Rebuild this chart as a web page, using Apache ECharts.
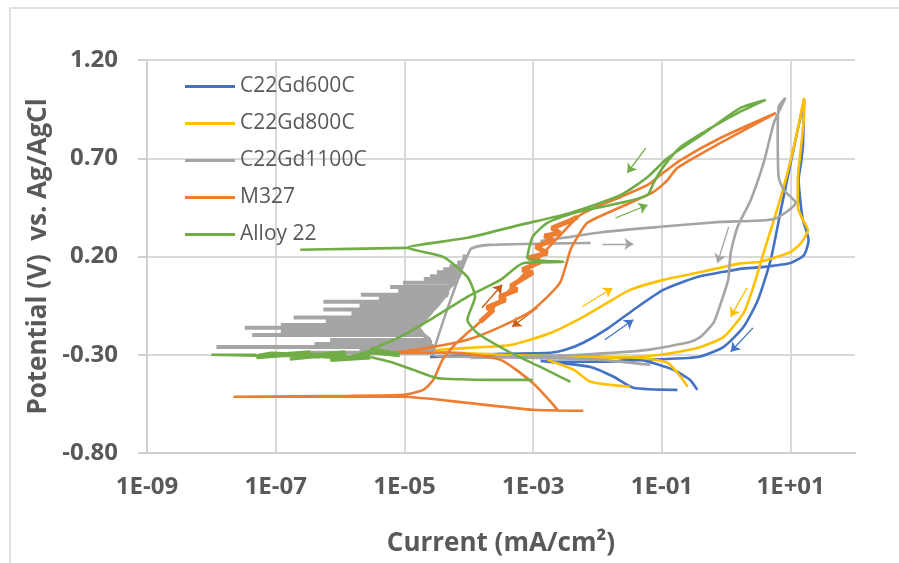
<!DOCTYPE html>
<html>
<head>
<meta charset="utf-8">
<script src="https://cdn.jsdelivr.net/npm/echarts@6/dist/echarts.min.js"></script>
<style>
  html, body { margin: 0; padding: 0; background: #fff; }
  #chart { width: 899px; height: 563px; }
</style>
</head>
<body>
<div id="chart"></div>
<script>
// current in mA/cm2, potential in V vs Ag/AgCl, [current, potential]
// '-' pairs break the line
const seriesNames = ['C22Gd600C', 'C22Gd800C', 'C22Gd1100C', 'M327', 'Alloy 22']

const c22gd600 = [
  [0.355, -0.479], [0.275, -0.428], [0.151, -0.377], [0.047, -0.326], [0.0112, -0.311],
  [2.6e-3, -0.306], [6.3e-4, -0.306], [2.5e-5, -0.311], [3.1e-4, -0.295], [1.86e-3, -0.29],
  [3.16e-3, -0.275], [6.0e-3, -0.239], [0.0141, -0.168], [0.036, -0.072], [0.105, 0.03],
  [0.355, 0.096], [0.91, 0.122], [1.66, 0.137], [3.8, 0.147], [10, 0.167], [16.2, 0.208],
  [19, 0.284], [15.5, 0.386], [14.5, 0.452], [13.3, 0.59], [14.5, 0.676], [15.5, 0.757],
  [16.2, 0.997],
  [10, 0.676], [6.9, 0.422], [4.9, 0.183], [3.1, -0.021], [1.86, -0.158], [0.91, -0.26],
  [0.363, -0.311], [0.047, -0.326], [0.0112, -0.336], [2.6e-3, -0.336], [1.3e-3, -0.331],
  [7.8e-3, -0.362], [0.0178, -0.412], [0.036, -0.468], [0.174, -0.479]
]

const c22gd800 = [
  [0.251, -0.463], [0.195, -0.412], [0.123, -0.341], [0.047, -0.316], [0.0112, -0.311],
  [1.86e-3, -0.306], [3.1e-4, -0.3], [2.5e-5, -0.28], [9.5e-5, -0.265], [4.5e-4, -0.25],
  [1.86e-3, -0.189], [6.0e-3, -0.107], [0.0141, -0.036], [0.032, 0.03], [0.105, 0.081],
  [0.355, 0.117], [0.91, 0.147], [1.66, 0.165], [3.4, 0.173], [10, 0.223], [14.5, 0.269],
  [18.6, 0.335], [15.5, 0.386], [12.9, 0.452], [12.9, 0.59], [14.5, 0.757], [16.2, 0.93],
  [16.2, 1.007],
  [11.2, 0.757], [7.8, 0.554], [5.5, 0.386], [3.8, 0.218], [2.63, 0.045], [1.86, -0.087],
  [0.91, -0.209], [0.363, -0.265], [0.095, -0.3], [0.0178, -0.316], [5.4e-3, -0.316],
  [1.6e-3, -0.321], [4.3e-3, -0.377], [7.8e-3, -0.438], [0.032, -0.463]
]

const c22gd1100Start = [
  [0.066, -0.351], [0.0112, -0.326], [1.3e-3, -0.316], [1.05e-4, -0.311], [2.8e-5, -0.3]
]
// noisy part of the forward scan: [potential, right current, left current]
const c22gd1100Noise = [
  [-0.29, 2.8e-5, 3e-7], [-0.275, 2.8e-5, 2e-6], [-0.26, 2.8e-5, 1.2e-8], [-0.245, 2.5e-5, 4e-7],
  [-0.225, 2.5e-5, 7e-7], [-0.2, 2.0e-5, 4.3e-8], [-0.18, 1.8e-5, 1.2e-7], [-0.163, 1.6e-5, 3.3e-8],
  [-0.148, 1.8e-5, 1.2e-7], [-0.13, 2.0e-5, 6e-7], [-0.11, 2.2e-5, 1.9e-7], [-0.09, 2.5e-5, 1.5e-6],
  [-0.07, 2.8e-5, 5.5e-7], [-0.05, 3.2e-5, 2e-6], [-0.03, 3.6e-5, 5.5e-7], [-0.01, 4.0e-5, 4e-6],
  [0.005, 4.6e-5, 2.1e-6], [0.025, 4.6e-5, 8e-6], [0.045, 5e-5, 6e-6], [0.066, 6e-5, 9.5e-6],
  [0.085, 6.5e-5, 2e-5], [0.1, 7e-5, 2.5e-5], [0.12, 7.4e-5, 3.2e-5], [0.135, 7.4e-5, 4e-5],
  [0.15, 7.4e-5, 5e-5], [0.17, 8e-5, 6.6e-5], [0.2, 9e-5, 8e-5]
]
const c22gd1100End = [
  [1.05e-4, 0.234], [2.1e-4, 0.259], [7.8e-3, 0.269], ['-', '-'],
  [1.3e-3, 0.279], [3.8e-3, 0.3], [0.0123, 0.325], [0.095, 0.351], [0.81, 0.376], [5.5, 0.391],
  [12, 0.473], [7.8, 0.539], [6.5, 0.605], [6.3, 0.829], [6.5, 0.961], [8.3, 1.007],
  [5.5, 0.88], [3.8, 0.676], [2.4, 0.488], [1.5, 0.351], [1.17, 0.218], [1.07, 0.081],
  [0.73, -0.087], [0.63, -0.138], [0.4, -0.209], [0.28, -0.234], [0.06, -0.275],
  [5.4e-3, -0.3], [6.3e-4, -0.311], [1.05e-4, -0.316]
]

const m327Cathodic = [
  [6.0e-3, -0.585], [1.0e-3, -0.58], [9.5e-5, -0.545], [9.5e-6, -0.514], [2.4e-7, -0.514],
  [2.2e-8, -0.514], [1.45e-6, -0.509], [9.5e-6, -0.504], [1.95e-5, -0.479], [2.8e-5, -0.428],
  [3.9e-5, -0.326], [6.0e-5, -0.25], [9.5e-5, -0.189], [1.5e-4, -0.133]
]
const m327Noisy = [
  [1.5e-4, -0.133], [2.4e-4, -0.072], [1.9e-4, -0.06], [3.7e-4, -0.021], [3.0e-4, -0.005],
  [5.6e-4, 0.03], [4.5e-4, 0.05], [9.8e-4, 0.117], [6.8e-4, 0.132], [1.3e-3, 0.173],
  [8.5e-4, 0.193], [1.66e-3, 0.218], [1.1e-3, 0.249], [2.0e-3, 0.284], [1.5e-3, 0.305],
  [2.6e-3, 0.32], [1.95e-3, 0.345], [3.4e-3, 0.376], [4.9e-3, 0.401]
]
const m327Rest = [
  [4.9e-3, 0.401], [0.0112, 0.462],
  [0.023, 0.503], [0.06, 0.564], [0.095, 0.615], [0.195, 0.691], [0.81, 0.803], [5.9, 0.93],
  [0.81, 0.778], [0.174, 0.651], [0.123, 0.59], [0.074, 0.529], [0.023, 0.452], [6.9e-3, 0.371],
  [4.9e-3, 0.3], [3.8e-3, 0.234], [2.6e-3, 0.066], [9.8e-4, -0.072], [3.1e-4, -0.158],
  [9.5e-5, -0.224], [2.8e-5, -0.26], [8.5e-6, -0.285], [2.95e-6, -0.29], [5.1e-5, -0.29],
  [3.1e-4, -0.326], [9.8e-4, -0.443], [2.4e-3, -0.58]
]

const alloy22Cathodic = [
  [9.8e-4, -0.428], [2.1e-4, -0.428], [7.4e-5, -0.425], [3.2e-5, -0.418], [1.38e-5, -0.377],
  [6.0e-6, -0.336], [2.95e-6, -0.311]
]
// thick noisy band around the corrosion potential
const alloy22Band = [
  [2.95e-6, -0.311], [7.1e-7, -0.324], [1.2e-6, -0.29], [1.66e-7, -0.318], [3.4e-7, -0.29],
  [5.0e-8, -0.31], [8.5e-8, -0.296], [4.9e-7, -0.306], [2.4e-7, -0.296], [1.45e-6, -0.316],
  [2.95e-6, -0.285], [8.5e-6, -0.3], [2.95e-6, -0.275]
]
const alloy22Tail = [[5.0e-8, -0.305], [1.0e-8, -0.3], [5.0e-8, -0.3]]
const alloy22Rest = [
  [2.95e-6, -0.275], [8.5e-6, -0.209], [2.8e-5, -0.112],
  [9.5e-5, -0.005], [3.1e-4, 0.081], [7.1e-4, 0.167], [2.95e-3, 0.173], [8.1e-4, 0.193],
  [9.8e-4, 0.3], [1.66e-3, 0.371], [4.3e-3, 0.422], [0.023, 0.473], [0.06, 0.513],
  [0.074, 0.574], [0.105, 0.656], [0.195, 0.757], [0.51, 0.844], [1.5, 0.93], [4.1, 0.997],
  [1.66, 0.956], [0.46, 0.829], [0.123, 0.701], [0.06, 0.605], [0.023, 0.513], [3.8e-3, 0.422],
  [6.3e-4, 0.361], [9.5e-5, 0.295], [1.1e-5, 0.244], [4.0e-5, 0.198], [9.5e-5, 0.096],
  [1.25e-4, -0.005], [9.5e-5, -0.122], [1.35e-4, -0.189], [4.5e-4, -0.29], [1.3e-3, -0.362],
  [3.8e-3, -0.438], ['-', '-'],
  [1.1e-5, 0.244], [1.45e-6, 0.239], [2.4e-7, 0.234]
]

// scan direction arrows: [from, to]
const arrowsBlue = [[[0.013, -0.224], [0.036, -0.122]], [[2.6, -0.163], [1.17, -0.285]]]
const arrowsYellow = [[[5.8e-3, -0.056], [0.017, 0.04]], [[2.1, 0.04], [1.17, -0.107]]]
const arrowsGray = [[[0.0119, 0.264], [0.036, 0.264]], [[1.09, 0.35], [0.73, 0.167]]]
const arrowsOrange = [[[1.6e-4, -0.061], [3.3e-4, 0.056]], [[1.16e-3, -0.061], [4.7e-4, -0.158]]]
const arrowsGreen = [[[0.056, 0.752], [0.029, 0.625]], [[0.019, 0.396], [0.06, 0.462]]]

const colors = ['#4472C4', '#FFC000', '#A5A5A5', '#ED7D31', '#70AD47']
const textColor = '#595959'
const font = '"Open Sans", "Noto Sans", sans-serif'

function grayNoisePath() {
  const pts = []
  c22gd1100Noise.forEach(([v, r, l]) => {
    pts.push([r, v], [l, v], [r, v])
  })
  return pts
}

function fmtExp(v) {
  const e = Math.round(Math.log10(v))
  return '1E' + (e < 0 ? '-' : '+') + String(Math.abs(e)).padStart(2, '0')
}

function arrowData(list, color) {
  return list.map(a => ({ coords: a, lineStyle: { color: color } }))
}

function curve(idx, data, width, smooth) {
  return {
    name: seriesNames[idx],
    type: 'line',
    data: data,
    showSymbol: false,
    symbol: 'none',
    smooth: smooth || false,
    connectNulls: false,
    color: colors[idx],
    lineStyle: { color: colors[idx], width: width }
  }
}

const chart = echarts.init(document.getElementById('chart'))

chart.setOption({
  animation: false,
  textStyle: { fontFamily: font },
  grid: { left: 147, right: 44, top: 60, bottom: 110 },
  graphic: [{
    type: 'polyline',
    shape: { points: [[10, 600], [10, 8], [920, 8]] },
    style: { stroke: '#d9d9d9', lineWidth: 1.5, fill: null }
  }],
  legend: {
    data: seriesNames,
    orient: 'vertical',
    left: 180,
    top: 71,
    icon: 'rect',
    itemWidth: 50,
    itemHeight: 3,
    itemGap: 16,
    textStyle: { fontSize: 21, color: textColor, fontFamily: font }
  },
  xAxis: {
    type: 'log',
    logBase: 10,
    min: 1e-9,
    max: 100,
    interval: 2,
    name: 'Current (mA/cm²)',
    nameLocation: 'middle',
    nameGap: 78,
    nameTextStyle: { fontSize: 26, fontWeight: 'bold', color: textColor },
    axisLine: { onZero: false, lineStyle: { color: '#d0d0d0', width: 2 } },
    axisTick: { show: false },
    axisLabel: {
      fontSize: 24, fontWeight: 'bold', color: textColor, margin: 22,
      formatter: v => (Math.round(Math.log10(v)) === 2 ? '' : fmtExp(v))
    },
    splitLine: { show: true, showMaxLine: false, lineStyle: { color: '#d9d9d9', width: 2 } },
    minorTick: { show: false }
  },
  yAxis: {
    type: 'value',
    min: -0.8,
    max: 1.2,
    interval: 0.5,
    name: 'Potential (V)  vs. Ag/AgCl',
    nameLocation: 'middle',
    nameGap: 92,
    nameTextStyle: { fontSize: 26, fontWeight: 'bold', color: textColor },
    axisLine: { show: true, onZero: false, lineStyle: { color: '#d0d0d0', width: 2 } },
    axisTick: { show: true, length: 9, lineStyle: { color: '#d0d0d0', width: 2 } },
    axisLabel: {
      fontSize: 24, fontWeight: 'bold', color: textColor, margin: 29,
      formatter: v => v.toFixed(2)
    },
    splitLine: { lineStyle: { color: '#d9d9d9', width: 2 } }
  },
  series: [
    curve(0, c22gd600, 2.6, 0.2),
    curve(1, c22gd800, 2.6, 0.2),
    curve(2, c22gd1100Start.concat(c22gd1100End), 2.6, 0.2),
    curve(2, grayNoisePath(), 4),
    curve(3, m327Cathodic.concat(m327Rest), 2.6, 0.2),
    curve(3, m327Noisy, 5),
    curve(4, alloy22Cathodic.concat(['-', '-'], alloy22Rest), 2.6, 0.2),
    curve(4, alloy22Band, 5),
    curve(4, alloy22Tail, 2.6),
    {
      type: 'lines',
      coordinateSystem: 'cartesian2d',
      symbol: ['none', 'arrow'],
      symbolSize: 9,
      lineStyle: { width: 1.3, opacity: 1 },
      data: [].concat(
        arrowData(arrowsBlue, colors[0]),
        arrowData(arrowsYellow, colors[1]),
        arrowData(arrowsGray, colors[2]),
        arrowData(arrowsOrange, '#C55A11'),
        arrowData(arrowsGreen, colors[4])
      )
    }
  ]
})
</script>
</body>
</html>
